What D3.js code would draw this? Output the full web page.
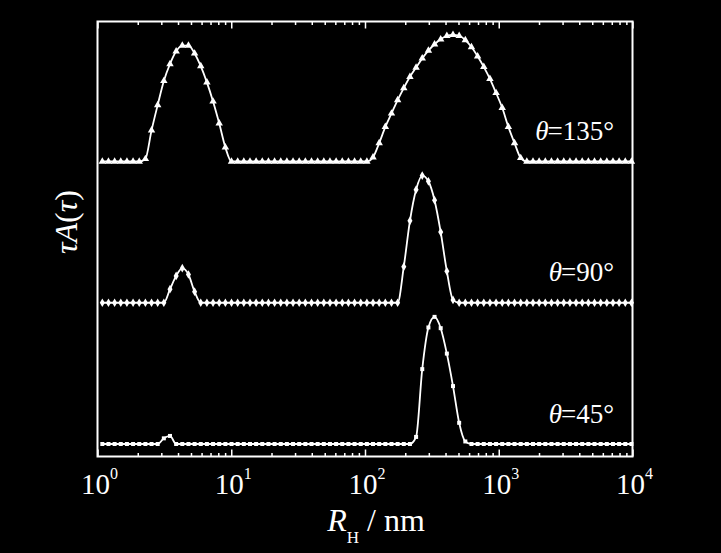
<!DOCTYPE html>
<html><head><meta charset="utf-8">
<script src="https://cdn.jsdelivr.net/npm/d3@7"></script>
<style>html,body{margin:0;padding:0;background:#000;} svg{display:block;}</style>
</head><body>
<svg id="chart" width="721" height="553"></svg>
<script>
// ---- data (log10 of R_H in nm, and normalized distributions) ----
const logR = [0.036,0.082,0.128,0.174,0.220,0.266,0.312,0.358,0.404,0.450,
  0.496,0.542,0.588,0.634,0.680,0.726,0.772,0.818,0.864,0.910,
  0.956,1.002,1.048,1.094,1.140,1.186,1.232,1.278,1.324,1.370,
  1.416,1.462,1.508,1.554,1.600,1.646,1.692,1.738,1.784,1.830,
  1.876,1.922,1.968,2.014,2.060,2.106,2.152,2.198,2.244,2.290,
  2.336,2.382,2.428,2.474,2.520,2.566,2.612,2.658,2.704,2.750,
  2.796,2.842,2.888,2.934,2.980,3.026,3.072,3.118,3.164,3.210,
  3.256,3.302,3.348,3.394,3.440,3.486,3.532,3.578,3.624,3.670,
  3.716,3.762,3.808,3.854,3.900,3.946,3.992];

const series135 = [0,0,0,0,0,0,0,
  0.018,0.22,0.40,0.57,0.69,0.78,0.82,0.82,0.765,0.675,0.56,0.425,0.27,0.10,
  0,0,0,0,0,0,0,0,0,0, 0,0,0,0,0,0,0,0,0,0, 0,0,0,
  0.03,0.13,0.245,0.34,0.435,0.52,0.60,0.665,0.73,0.785,0.83,0.865,0.89,0.897,0.89,0.86,0.81,0.745,0.67,0.585,0.485,0.38,0.245,0.13,0.025,
  0,0,0,0,0,0,0,0,0,0, 0,0,0,0,0,0,0,0];

const series90 = [0,0,0,0,0,0,0,0,0,0, 0,
  0.096,0.19,0.245,0.20,0.078,
  0,0,0,0,0,0,0,0,0,0, 0,0,0,0,0,0,0,0,0,0, 0,0,0,0,0,0,0,0,0,0, 0,0,0,
  0.255,0.58,0.80,0.90,0.86,0.726,0.50,0.223,0.02,
  0,0,0,0,0,0,0,0,0,0, 0,0,0,0,0,0,0,0,0,0, 0,0,0,0,0,0,0,0,0];

const series45 = [0,0,0,0,0,0,0,0,0,0,
  0.04,0.057,
  0,0,0,0,0,0,0,0,0,0, 0,0,0,0,0,0,0,0,0,0, 0,0,0,0,0,0,0,0,0,0, 0,0,0,0,0,0,0,0,0,
  0.05,0.53,0.825,0.90,0.82,0.64,0.41,0.15,0.018,
  0,0,0,0,0,0,0,0,0,0, 0,0,0,0,0,0,0,0,0,0, 0,0,0,0,0,0,0];

const angleLabels = ["135", "90", "45"];
const xTickExponents = [0, 1, 2, 3, 4];
const minorMultipliers = [2, 3, 4, 5, 6, 7, 8, 9];

// ---- layout ----
const W = 721, H = 553;
const box = {left: 97.5, right: 632.5, top: 21.5, bottom: 456.5};
const serif = "'Liberation Serif', 'Times New Roman', Times, serif";

const x = d3.scaleLog().domain([1, 1e4]).range([box.left, box.right]);
const y = d3.scaleLinear().domain([-0.0885, 2.991]).range([box.bottom, box.top]);

const svg = d3.select("#chart");
svg.append("rect").attr("width", W).attr("height", H).attr("fill", "#000");

const R = logR.map(v => Math.pow(10, v));
const seriesList = [
  {label: angleLabels[0], values: series135, offset: 2, symbol: d3.symbolTriangle, size: 24},
  {label: angleLabels[1], values: series90, offset: 1, symbol: d3.symbolDiamond, size: 22},
  {label: angleLabels[2], values: series45, offset: 0, symbol: d3.symbolSquare, size: 16}
];

const line = d3.line().x(d => x(d[0])).y(d => y(d[1])).curve(d3.curveMonotoneX);

seriesList.forEach(s => {
  const pts = R.map((r, i) => [r, s.values[i] + s.offset]);
  svg.append("path").attr("d", line(pts)).attr("fill", "none")
    .attr("stroke", "#fff").attr("stroke-width", 1.8);
  svg.append("g").selectAll("path").data(pts).join("path")
    .attr("transform", d => `translate(${x(d[0])},${y(d[1])})`)
    .attr("d", d3.symbol().type(s.symbol).size(s.size))
    .attr("fill", "#fff");
  const t = svg.append("text").attr("x", 614).attr("y", y(s.offset + 0.152))
    .attr("text-anchor", "end").attr("fill", "#fff")
    .attr("font-family", serif).attr("font-size", 27);
  t.append("tspan").attr("font-style", "italic").text("θ");
  t.append("tspan").attr("dx", -1).text("=" + s.label + "°");
});

// ---- axes ----
const majors = xTickExponents.map(e => Math.pow(10, e));
const minors = [];
xTickExponents.slice(0, -1).forEach(e => minorMultipliers.forEach(m => minors.push(m * Math.pow(10, e))));

function drawAxis(axisFn, ty, values, size) {
  const g = svg.append("g").attr("transform", `translate(0,${ty})`)
    .call(axisFn(x).tickValues(values).tickSize(-size).tickFormat(() => ""));
  g.select(".domain").remove();
  g.selectAll(".tick line").attr("stroke", "#fff").attr("stroke-width", 1.5);
  g.selectAll(".tick text").remove();
}
drawAxis(d3.axisBottom, box.bottom, majors, 7);
drawAxis(d3.axisBottom, box.bottom, minors, 3.5);
drawAxis(d3.axisTop, box.top, majors, 7);
drawAxis(d3.axisTop, box.top, minors, 3.5);

svg.append("rect").attr("x", box.left).attr("y", box.top)
  .attr("width", box.right - box.left).attr("height", box.bottom - box.top)
  .attr("fill", "none").attr("stroke", "#fff").attr("stroke-width", 2);

// tick labels
xTickExponents.forEach(e => {
  const t = svg.append("text").attr("x", x(Math.pow(10, e)) + 2).attr("y", 494)
    .attr("text-anchor", "middle").attr("fill", "#fff")
    .attr("font-family", serif).attr("font-size", 29);
  t.append("tspan").text("10");
  t.append("tspan").attr("font-size", 16).attr("dy", -15).text(String(e));
});

// x title
const xt = svg.append("text").attr("x", 376).attr("y", 531)
  .attr("text-anchor", "middle").attr("fill", "#fff")
  .attr("font-family", serif).attr("font-size", 32);
xt.append("tspan").attr("font-style", "italic").text("R");
xt.append("tspan").attr("font-size", 17).attr("dy", 12).text("H");
xt.append("tspan").attr("dy", -12).text(" / nm");

// y title
const yt = svg.append("text").attr("transform", "translate(77,222) rotate(-90)")
  .attr("text-anchor", "middle").attr("fill", "#fff")
  .attr("font-family", serif).attr("font-size", 32);
yt.append("tspan").attr("font-style", "italic").text("τA");
yt.append("tspan").text("(");
yt.append("tspan").attr("font-style", "italic").text("τ");
yt.append("tspan").text(")");
</script>
</body></html>
